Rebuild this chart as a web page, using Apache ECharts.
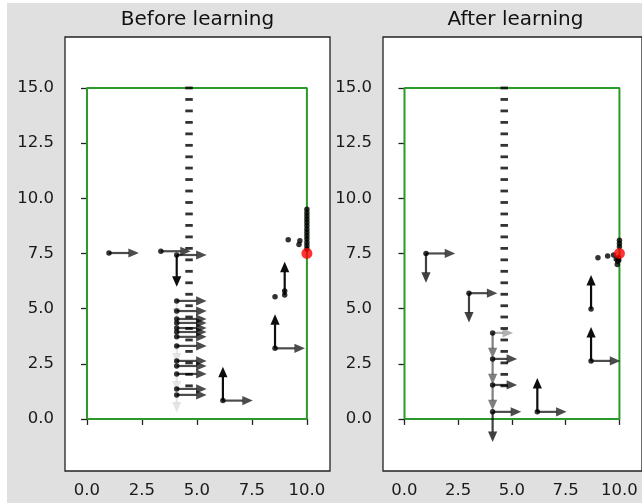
<!DOCTYPE html>
<html>
<head>
<meta charset="utf-8">
<script src="https://cdn.jsdelivr.net/npm/echarts@6/dist/echarts.min.js"></script>
<style>
html, body { margin: 0; padding: 0; background: #fff; }
#chart { width: 642px; height: 504px; }
</style>
</head>
<body>
<div id="chart"></div>
<script>
// tick labels
const xTicks = [0, 2.5, 5, 7.5, 10]
const yTicks = [0, 2.5, 5, 7.5, 10, 12.5, 15]
const titles = ['Before learning', 'After learning']

// room outline, goal and the wall in the middle
const roomX = [0, 10, 10, 0, 0]
const roomY = [0, 0, 15, 15, 0]
const goal = [10, 7.5]
const wallX = 4.64
const wallY = [15, 14.48, 13.96, 13.44, 12.92, 12.4, 11.88, 11.37, 10.85, 10.33, 9.81, 9.29, 8.77, 8.25,
    7.73, 7.21, 6.69, 6.17, 5.65, 5.13, 4.62, 4.1, 3.58, 3.06, 2.54, 2.02, 1.5]

// visited positions, before learning
const beforeX = [1.0, 3.36, 4.08, 4.08, 4.08, 4.08, 4.08, 4.08, 4.08, 4.08, 4.08, 4.08, 4.08, 4.08, 4.08, 4.08,
    6.18, 8.55, 8.55, 8.99, 8.99, 9.15, 9.68, 9.64,
    10, 10, 10, 10, 10, 10, 10, 10, 10, 10, 10, 10, 10]
const beforeY = [7.52, 7.6, 7.43, 5.35, 4.89, 4.53, 4.35, 4.12, 3.94, 3.72, 3.31, 2.63, 2.4, 2.04, 1.36, 1.09,
    0.83, 3.2, 5.54, 5.62, 5.8, 8.12, 8.07, 7.9,
    7.7, 7.85, 8.0, 8.15, 8.3, 8.45, 8.6, 8.75, 8.9, 9.05, 9.2, 9.35, 9.5]

// visited positions, after learning
const afterX = [1.0, 3.0, 4.1, 4.1, 4.1, 4.1, 6.18, 8.68, 8.68, 9.0, 9.45, 9.73,
    10, 10, 10, 9.95, 9.92, 9.9, 9.97, 9.85]
const afterY = [7.5, 5.7, 3.9, 2.72, 1.54, 0.32, 0.32, 2.63, 4.98, 7.3, 7.39, 7.43,
    8.1, 7.95, 7.8, 7.3, 7.15, 7.0, 7.2, 7.25]

// action arrows: start x, start y, dx, dy, probability (drawn as opacity)
const beforeArrowX = [1.0, 3.36, 4.08, 4.08, 4.08, 4.08, 4.08, 4.08, 4.08, 4.08, 4.08, 4.08, 4.08, 4.08, 4.08, 4.08,
    6.18, 8.55, 4.08, 4.08, 4.08, 4.08, 4.08, 6.18, 8.55, 8.99]
const beforeArrowY = [7.52, 7.6, 7.43, 5.35, 4.89, 4.53, 4.35, 4.12, 3.94, 3.72, 3.31, 2.63, 2.4, 2.04, 1.36, 1.09,
    0.83, 3.2, 7.43, 5.35, 3.31, 2.04, 1.09, 0.83, 3.2, 5.62]
const beforeArrowDx = [1.36, 1.36, 1.36, 1.36, 1.36, 1.36, 1.36, 1.36, 1.36, 1.36, 1.36, 1.36, 1.36, 1.36, 1.36, 1.36,
    1.36, 1.36, 0, 0, 0, 0, 0, 0, 0, 0]
const beforeArrowDy = [0, 0, 0, 0, 0, 0, 0, 0, 0, 0, 0, 0, 0, 0, 0, 0,
    0, 0, -1.44, -0.8, -0.8, -0.8, -0.8, 1.54, 1.54, 1.5]
const beforeArrowP = [0.7, 0.7, 0.7, 0.7, 0.7, 0.7, 0.7, 0.7, 0.7, 0.7, 0.7, 0.7, 0.7, 0.7, 0.7, 0.7,
    0.7, 0.7, 0.95, 0.1, 0.1, 0.1, 0.1, 0.95, 0.95, 0.95]

const afterArrowX = [1.0, 3.0, 4.1, 4.1, 4.1, 4.1, 6.18, 8.68, 1.0, 3.0, 4.1, 4.1, 4.1, 4.1, 6.18, 8.68, 8.68]
const afterArrowY = [7.5, 5.7, 3.9, 2.72, 1.54, 0.32, 0.32, 2.63, 7.5, 5.7, 3.9, 2.72, 1.54, 0.32, 0.32, 2.63, 4.98]
const afterArrowDx = [1.36, 1.32, 0.95, 1.14, 1.14, 1.33, 1.36, 1.36, 0, 0, 0, 0, 0, 0, 0, 0, 0]
const afterArrowDy = [0, 0, 0, 0, 0, 0, 0, 0, -1.33, -1.33, -1.15, -1.15, -1.15, -1.36, 1.54, 1.54, 1.54]
const afterArrowP = [0.7, 0.7, 0.3, 0.7, 0.7, 0.7, 0.7, 0.7, 0.75, 0.75, 0.5, 0.5, 0.5, 0.75, 0.95, 0.95, 0.95]

const zip = (a, b) => a.map((v, i) => [v, b[i]])
const zipArrows = (x, y, dx, dy, p) => x.map((v, i) => [v, y[i], dx[i], dy[i], p[i]])

const font = 'DejaVu Sans'
const panelLeft = [65, 383]

const renderArrow = (params, api) => {
    const p0 = api.coord([api.value(0), api.value(1)])
    const p1 = api.coord([api.value(0) + api.value(2), api.value(1) + api.value(3)])
    const color = 'rgba(0,0,0,' + api.value(4) + ')'
    const dx = p1[0] - p0[0]
    const dy = p1[1] - p0[1]
    const len = Math.hypot(dx, dy)
    const ux = dx / len, uy = dy / len
    const head = 10.5, half = 4.6
    const bx = p1[0] - ux * head, by = p1[1] - uy * head
    return {
        type: 'group',
        children: [
            { type: 'line', shape: { x1: p0[0], y1: p0[1], x2: bx + ux * 0.5, y2: by + uy * 0.5 }, style: { stroke: color, lineWidth: 2.2 } },
            { type: 'polygon', shape: { points: [[p1[0], p1[1]], [bx - uy * half, by + ux * half], [bx + uy * half, by - ux * half]] }, style: { fill: color } }
        ]
    }
}

const panels = [
    { dots: zip(beforeX, beforeY), arrows: zipArrows(beforeArrowX, beforeArrowY, beforeArrowDx, beforeArrowDy, beforeArrowP) },
    { dots: zip(afterX, afterY), arrows: zipArrows(afterArrowX, afterArrowY, afterArrowDx, afterArrowDy, afterArrowP) }
]

const grid = [], xAxis = [], yAxis = [], series = [], graphic = []

graphic.push({ type: 'rect', z: -100, silent: true, shape: { x: 7, y: 3, width: 635, height: 500 }, style: { fill: '#e0e0e0' } })

panels.forEach((panel, i) => {
    grid.push({
        left: panelLeft[i], top: 37, width: 265, height: 434,
        show: true, backgroundColor: '#fff', borderColor: '#222', borderWidth: 1.3
    })
    xAxis.push({
        gridIndex: i, type: 'value', min: -1.0, max: 11.05,
        axisLine: { show: false }, splitLine: { show: false },
        axisTick: { show: true, customValues: xTicks, length: 6, lineStyle: { color: '#222', width: 1.3 } },
        axisLabel: { customValues: xTicks, formatter: v => v.toFixed(1), fontSize: 16.5, fontFamily: font, color: '#1a1a1a', margin: 11 }
    })
    yAxis.push({
        gridIndex: i, type: 'value', min: -2.36, max: 17.31,
        axisLine: { show: false }, splitLine: { show: false },
        axisTick: { show: true, customValues: yTicks, length: 6, lineStyle: { color: '#222', width: 1.3 } },
        axisLabel: { customValues: yTicks, formatter: v => v.toFixed(1), fontSize: 16.5, fontFamily: font, color: '#1a1a1a', margin: 11 }
    })
    graphic.push({
        type: 'text', x: panelLeft[i] + 132.5, y: 20, z: 10,
        style: { text: titles[i], font: '20px "DejaVu Sans"', fill: '#111', textAlign: 'center', textVerticalAlign: 'middle', align: 'center', verticalAlign: 'middle' }
    })
    series.push({
        type: 'line', xAxisIndex: i, yAxisIndex: i, data: zip(roomX, roomY),
        symbol: 'none', lineStyle: { color: '#2a9a2a', width: 2 }, z: 1, silent: true
    })
    series.push({
        type: 'scatter', xAxisIndex: i, yAxisIndex: i, data: wallY.map(y => [wallX, y]),
        symbol: 'rect', symbolSize: [7.5, 2.8], itemStyle: { color: '#000' }, z: 2, silent: true
    })
    series.push({
        type: 'custom', xAxisIndex: i, yAxisIndex: i, data: panel.arrows,
        dimensions: ['x', 'y', 'dx', 'dy', 'p'], encode: { x: 0, y: 1 },
        renderItem: renderArrow, z: 3, silent: true
    })
    series.push({
        type: 'scatter', xAxisIndex: i, yAxisIndex: i, data: panel.dots,
        symbol: 'circle', symbolSize: 5.5, itemStyle: { color: '#000' }, z: 4, silent: true
    })
    series.push({
        type: 'scatter', xAxisIndex: i, yAxisIndex: i, data: [goal],
        symbol: 'circle', symbolSize: 11, itemStyle: { color: '#ff0000' }, z: 5, silent: true
    })
})

const chart = echarts.init(document.getElementById('chart'), null, { renderer: 'canvas' })
chart.setOption({
    animation: false,
    backgroundColor: '#fff',
    grid, xAxis, yAxis, series, graphic
})
</script>
</body>
</html>
